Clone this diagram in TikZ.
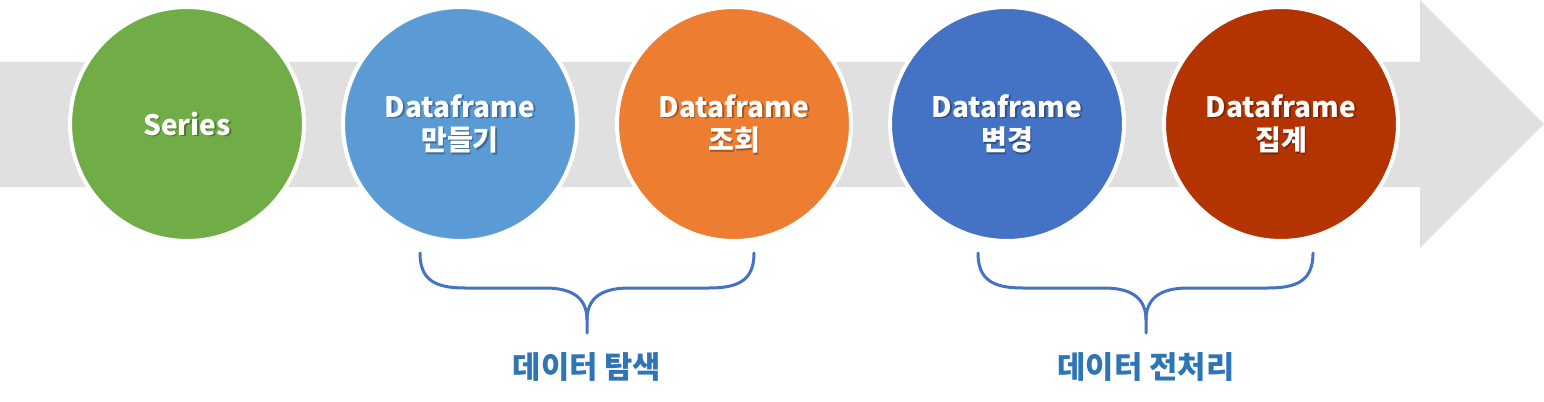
\documentclass[tikz,border=0pt]{standalone}
\usepackage{fontspec}
\newfontfamily\krfont{Noto Sans CJK KR}
\usetikzlibrary{positioning}
\definecolor{arrowgray}{HTML}{E0E0E0}
\definecolor{stepgreen}{HTML}{70AD47}
\definecolor{steplight}{HTML}{5B9BD5}
\definecolor{steporange}{HTML}{ED7D31}
\definecolor{stepblue}{HTML}{4472C4}
\definecolor{stepred}{HTML}{B33400}
\definecolor{labelblue}{HTML}{2E75B6}

\begin{document}
\begin{tikzpicture}[x=0.02cm,y=-0.02cm,
  stage/.style={circle,draw=white,line width=0.08cm,minimum size=4.68cm,inner sep=0pt,
    font=\krfont\bfseries\fontsize{16}{19}\selectfont,text=white,align=center},
  shade/.style={font=\krfont\bfseries\fontsize{16}{19}\selectfont,text=black,opacity=0.3,align=center},
  brace/.style={draw=stepblue,line width=0.06cm,line cap=round},
  group/.style={font=\krfont\bfseries\fontsize{17.5}{21}\selectfont,text=labelblue}]
\useasboundingbox (0,0) rectangle (1544,402);
% grey arrow behind the stages
\fill[arrowgray] (0,62) -- (1420,62) -- (1420,0) -- (1544,124) -- (1420,248) -- (1420,187) -- (0,187) -- cycle;
% stages
\node[stage,fill=stepgreen] (series) at (187,124) {};
\node[stage,fill=steplight] (create) at (460,124) {};
\node[stage,fill=steporange] (query) at (734,124) {};
\node[stage,fill=stepblue] (change) at (1007,124) {};
\node[stage,fill=stepred] (aggr) at (1281,124) {};
\node[shade,xshift=0.03cm,yshift=-0.03cm] (seriesS) at (series) {Series};
\node[font=\krfont\bfseries\fontsize{16}{19}\selectfont,text=white] (seriesT) at (series) {Series};
\node[shade,xshift=0.03cm,yshift=-0.03cm] (createS) at (create) {Dataframe\\만들기};
\node[stage,draw=none,fill=none] (createT) at (create) {Dataframe\\만들기};
\node[shade,xshift=0.03cm,yshift=-0.03cm] (queryS) at (query) {Dataframe\\조회};
\node[stage,draw=none,fill=none] (queryT) at (query) {Dataframe\\조회};
\node[shade,xshift=0.03cm,yshift=-0.03cm] (changeS) at (change) {Dataframe\\변경};
\node[stage,draw=none,fill=none] (changeT) at (change) {Dataframe\\변경};
\node[shade,xshift=0.03cm,yshift=-0.03cm] (aggrS) at (aggr) {Dataframe\\집계};
\node[stage,draw=none,fill=none] (aggrT) at (aggr) {Dataframe\\집계};
% braces under the groups
\draw[brace] (420,253) .. controls (420,280) and (435,288) .. (465,288) -- (545,288)
  .. controls (575,288) and (587,300) .. (587,320) -- (587,333);
\draw[brace] (587,320) .. controls (587,300) and (599,288) .. (629,288) -- (709,288)
  .. controls (739,288) and (754,280) .. (754,253);
\draw[brace] (978,253) .. controls (978,280) and (993,288) .. (1023,288) -- (1104,288)
  .. controls (1134,288) and (1146,300) .. (1146,320) -- (1146,333);
\draw[brace] (1146,320) .. controls (1146,300) and (1158,288) .. (1188,288) -- (1268,288)
  .. controls (1298,288) and (1313,280) .. (1313,253);
\node[group] (explore) at (587,367) {데이터 탐색};
\node[group] (prep) at (1146,367) {데이터 전처리};
\end{tikzpicture}
\end{document}
